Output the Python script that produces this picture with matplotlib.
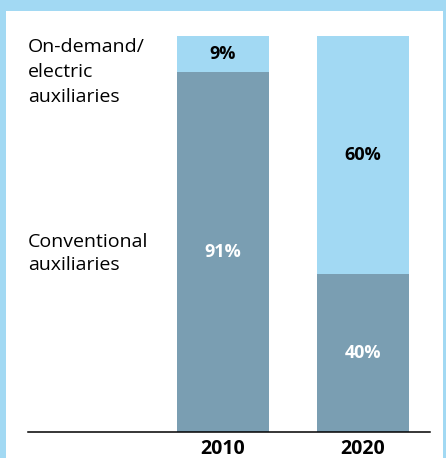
import matplotlib
matplotlib.use("Agg")
import matplotlib.pyplot as plt
from matplotlib.patches import Rectangle

years = ["2010", "2020"]
conventional = [91, 40]
on_demand = [9, 60]
series_labels = ["Conventional\nauxiliaries", "On-demand/\nelectric\nauxiliaries"]

LIGHT = "#a2d9f3"
DARK = "#7a9eb2"

plt.rcParams["font.family"] = ["Open Sans", "DejaVu Sans"]

W, H = 446, 458
fig = plt.figure(figsize=(W / 100, H / 100), dpi=100, facecolor=LIGHT)
# white panel inside the light blue frame
fig.patches.append(Rectangle((6 / W, 0), 437 / W, (H - 11) / H,
                             transform=fig.transFigure, facecolor="white",
                             edgecolor="none", zorder=-10))

ax = fig.add_axes([28 / W, (H - 432) / H, 402 / W, 396 / H])
ax.set_facecolor("none")

x = [0, 1]
width = 92 / 140
ax.bar(x, conventional, width=width, color=DARK, zorder=2)
ax.bar(x, on_demand, width=width, bottom=conventional, color=LIGHT, zorder=2)

for i in x:
    ax.text(i, conventional[i] / 2, f"{conventional[i]}%", ha="center",
            va="center", color="white", fontsize=13, fontweight="bold")
    ax.text(i, conventional[i] + on_demand[i] / 2, f"{on_demand[i]}%",
            ha="center", va="center", color="black", fontsize=13,
            fontweight="bold")

ax.text(0, 91.0, series_labels[1], transform=ax.get_yaxis_transform(),
        ha="left", va="center", fontsize=14, linespacing=1.5)
ax.text(0, 45.0, series_labels[0], transform=ax.get_yaxis_transform(),
        ha="left", va="center", fontsize=14, linespacing=1.35)

ax.set_xlim(-195 / 140, 1 + 67 / 140)
ax.set_ylim(0, 100)
ax.set_xticks(x)
ax.set_xticklabels(years, fontsize=14, fontweight="bold")
ax.tick_params(axis="x", length=0, pad=5)
ax.set_yticks([])
for s in ["top", "left", "right"]:
    ax.spines[s].set_visible(False)
ax.spines["bottom"].set_linewidth(1.1)
ax.spines["bottom"].set_zorder(3)

fig.savefig("out.png", dpi=100, facecolor=LIGHT)
